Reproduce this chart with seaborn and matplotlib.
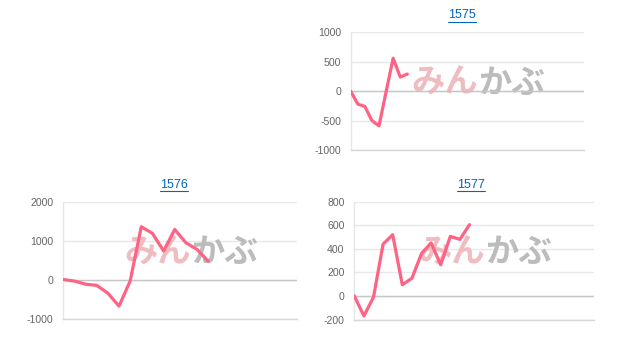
import numpy as np
import pandas as pd
import matplotlib
matplotlib.use("Agg")
import matplotlib.pyplot as plt
from matplotlib.lines import Line2D
import seaborn as sns

# ---- data ----
codes = ["1575", "1576", "1577"]
v1575 = [0, -220, -260, -500, -590, -10, 560, 240, 290]
v1576 = [10, -30, -110, -140, -340, -670, -30, 1360, 1190, 740, 1290, 950, 780, 480]
v1577 = [0, -170, -10, 440, 520, 95, 150, 360, 450, 265, 505, 480, 605]
n_points = [34, 22, 26]
yticks_1575 = [-1000, -500, 0, 500, 1000]
yticks_1576 = [-1000, 0, 1000, 2000]
yticks_1577 = [-200, 0, 200, 400, 600, 800]

series = [v1575, v1576, v1577]
yticks = [yticks_1575, yticks_1576, yticks_1577]

sns.set_style("white")
plt.rcParams['font.family'] = ['Liberation Sans', 'DejaVu Sans']

W, H = 618, 351
fig = plt.figure(figsize=(W / 100, H / 100), dpi=100)

# pixel boxes: x0, x1, ytop, ybottom
boxes = [(350.7, 584.3, 32.3, 150.0),
         (63.3, 297.3, 201.7, 319.0),
         (354.3, 594.3, 201.7, 319.5)]
title_pos = [(461.7, 15.0), (174.0, 184.8), (471.0, 184.8)]

line_color = "#ff6384"
titles = []
for code, vals, n, yt, (x0, x1, yt0, yb0) in zip(codes, series, n_points, yticks, boxes):
    ax = fig.add_axes([x0 / W, 1 - yb0 / H, (x1 - x0) / W, (yb0 - yt0) / H])
    full = list(vals) + [np.nan] * (n - len(vals))
    df = pd.DataFrame({"idx": np.arange(n), "value": full})
    # watermark
    ax.text(0.545, 0.565, "みん", transform=ax.transAxes, ha="right", va="center",
            fontsize=24, fontweight="bold", color="#efbcc0", zorder=1,
            family=["Noto Sans CJK JP", "DejaVu Sans"])
    ax.text(0.545, 0.565, "かぶ", transform=ax.transAxes, ha="left", va="center",
            fontsize=24, fontweight="bold", color="#bcbcbc", zorder=1,
            family=["Noto Sans CJK JP", "DejaVu Sans"])
    sns.lineplot(data=df.dropna(), x="idx", y="value", ax=ax, color=line_color,
                 linewidth=2.3, zorder=3)
    ax.set_xlim(0, n - 1)
    ax.set_ylim(yt[0], yt[-1])
    ax.set_yticks(yt)
    ax.set_yticklabels([str(t) for t in yt])
    ax.set_xticks([])
    ax.set_xlabel("")
    ax.set_ylabel("")
    ax.yaxis.grid(True, color="#e8e8e8", linewidth=1.0)
    ax.set_axisbelow(True)
    ax.axhline(0, color="#c6c6c6", linewidth=1.0, zorder=2)
    for s in ["top", "right"]:
        ax.spines[s].set_visible(False)
    ax.spines["left"].set_color("#e6e6e6")
    ax.spines["left"].set_linewidth(1.0)
    ax.spines["bottom"].set_color("#d6d6d6")
    ax.spines["bottom"].set_linewidth(1.0)
    ax.tick_params(axis="y", length=0, pad=7, labelsize=7.6, labelcolor="#666666")
    ax.patch.set_alpha(0)

for code, (tx, ty) in zip(codes, title_pos):
    t = fig.text(tx / W, 1 - ty / H, code, ha="center", va="center",
                 fontsize=9, color="#0066c0")
    titles.append(t)

fig.canvas.draw()
renderer = fig.canvas.get_renderer()
for t in titles:
    bb = t.get_window_extent(renderer)
    yline = bb.y0 - 0.5
    fig.add_artist(Line2D([bb.x0 / W, bb.x1 / W], [yline / H, yline / H],
                          transform=fig.transFigure, color="#0066c0", linewidth=0.8))

fig.savefig("out.png", dpi=100)
